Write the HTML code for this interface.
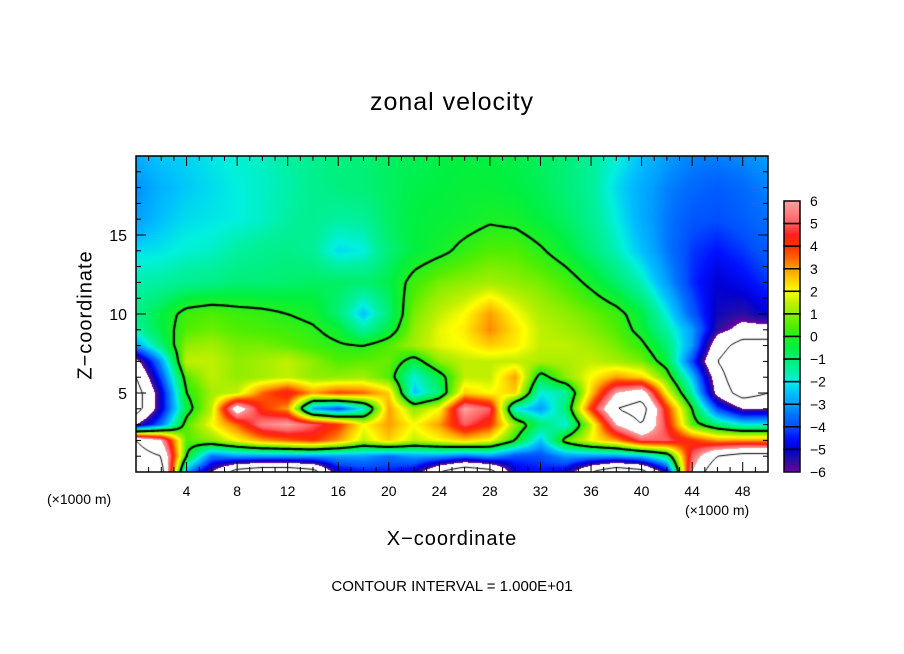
<!DOCTYPE html>
<html><head><meta charset="utf-8">
<style>
html,body{margin:0;padding:0;background:#fff;}
#wrap{position:relative;width:904px;height:654px;overflow:hidden;font-family:"Liberation Sans",sans-serif;color:#000;}
.t{position:absolute;white-space:nowrap;}
canvas{position:absolute;}
</style></head>
<body>
<div id="wrap">
<div class="t" style="left:0;width:904px;text-align:center;top:88px;font-size:25px;letter-spacing:1px;">zonal velocity</div>
<canvas id="plot" width="632" height="316" style="left:136px;top:156px;"></canvas>
<svg id="axes" width="904" height="654" style="position:absolute;left:0;top:0;"></svg>
<div class="t" style="left:86px;top:315px;font-size:20px;transform:translate(-50%,-50%) rotate(-90deg);letter-spacing:1px;">Z&#8722;coordinate</div>
<div class="t" style="left:0;width:904px;text-align:center;top:528px;font-size:20px;letter-spacing:1px;">X&#8722;coordinate</div>
<div class="t" style="left:47px;top:491px;font-size:14px;">(×1000 m)</div>
<div class="t" style="left:685px;top:502px;font-size:14px;">(×1000 m)</div>
<div class="t" style="left:0;width:904px;text-align:center;top:578px;font-size:15px;">CONTOUR INTERVAL = 1.000E+01</div>
</div>
<script>
// ---- data ----
const xKm = [0,2,4,6,8,10,12,14,16,18,20,22,24,26,28,30,32,34,36,38,40,42,44,46,48,50];
const zKm = [20,18,16,14,12,10,9,8,7,6,5,4,3,2,1,0];
const uZ20=[-2.8,-2.4,-2.3,-2.1,-1.9,-1.8,-1.5,-1.3,-1.1,-1,-0.8,-0.7,-0.6,-0.5,-0.5,-0.6,-0.8,-1,-1.4,-1.9,-2.5,-3,-3.3,-3.3,-3.2,-3];
const uZ18=[-3.2,-2.7,-2.4,-2.2,-2,-1.8,-1.6,-1.3,-1.1,-1,-0.8,-0.6,-0.5,-0.4,-0.4,-0.5,-0.7,-1,-1.4,-2.2,-2.8,-3.3,-3.6,-3.8,-3.6,-3.3];
const uZ16=[-3,-2.5,-2.2,-2.1,-2,-1.8,-1.5,-1.3,-1.5,-1.4,-0.8,-0.5,-0.4,-0.3,-0.1,-0.2,-0.5,-0.8,-1.3,-2,-2.8,-3.4,-3.9,-4,-3.8,-3.5];
const uZ14=[-2.2,-2.1,-1.9,-1.8,-1.5,-1.3,-1.2,-1.4,-2.2,-2,-1,-0.5,-0.2,0.2,0.5,0.5,0.1,-0.4,-1,-1.7,-2.5,-3.4,-4.2,-4.5,-4.2,-3.8];
const uZ12=[-1.6,-1.5,-1.3,-1.2,-1,-1,-0.9,-0.8,-0.8,-0.9,-0.6,0.3,0.8,1,1.2,1,0.8,0.4,-0.2,-0.9,-1.7,-3,-4.3,-5,-4.7,-4.2];
const uZ10=[-1.2,-0.5,0.3,0.5,0.3,0.2,0,-0.2,-1,-2.5,-1,0.8,1.5,2,3,2,1.3,1.0,0.7,0.3,-0.5,-2,-3.8,-5.2,-5.5,-5];
const uZ9=[-1.5,-0.5,0.5,0.7,0.5,0.4,0.3,0.1,-0.3,-1.5,-0.5,1.0,1.8,2.2,3.2,2.3,1.5,1.2,0.9,0.5,-0.3,-1.5,-3,-5.5,-6.5,-6.5];
const uZ8=[-3,-1,1,1.2,0.8,0.8,0.6,0.3,0.1,0,0.5,1.2,1.8,2,2.5,2.2,1.5,1.5,1.2,0.8,0.2,-1,-3,-7,-9,-9];
const uZ7=[-6.5,-3,1.5,1.5,1,1.2,1.5,1,0.5,0.6,0.7,-0.5,1,1.5,1.5,1.5,1.3,1.3,1.5,1.2,0.8,-0.5,-4,-8,-10,-10];
const uZ6=[-8,-4,0.5,1.5,1,1.2,1.5,1,1,1.2,0.5,-2,-0.5,1.5,1.5,3,-0.5,1,2,3,2.5,0.5,-2.5,-7,-10,-10];
const uZ5=[-9,-5,0,1.2,1.5,3.5,4.5,3,3.8,3.5,2.5,-2.5,-1,2.5,2,2.5,-2,-1.5,2.5,6,7,2,-1.5,-6.5,-9,-8];
const uZ4=[-9,-5,-0.5,1.5,7,4,3,-3,-4,-2,3,1,2,6,5,-2,-3,-1,4,8,9,4,0,-4,-6,-6];
const uZ3=[-6,-3.5,0.5,2,3.5,5.5,6,5,4,2,3,2,3,5,4,1,-1,-2,1.5,6,8,4.5,0.5,-1,-2,-2];
const uZ2=[8,6,0.5,1,2,3,3.5,4,3,1.5,2.5,1.5,2,2.5,2,0,-2.5,0.5,2,3,5,5,4,3,3,3];
const uZ1=[9,8,0,-3.5,-3,-3,-3,-3,-3,-3,-3.5,-3,-3,-3.5,-3,-4,-4,-3,-3,-3,-2.5,-1,5,8,9,9];
const uZ0=[10,9,-3,-6,-9,-10,-10,-9,-5,-4.5,-4.5,-5,-8,-10,-9,-5,-4.5,-5,-8,-10,-9,-5,6,10,10,10];
const fieldRows=[uZ20,uZ18,uZ16,uZ14,uZ12,uZ10,uZ9,uZ8,uZ7,uZ6,uZ5,uZ4,uZ3,uZ2,uZ1,uZ0];
const xTicks=[4,8,12,16,20,24,28,32,36,40,44,48];
const yTicks=[5,10,15];
const cbLevels=[6,5,4,3,2,1,0,-1,-2,-3,-4,-5,-6];

// ---- axis functions ----
const PL=136,PT=156,PW=632,PH=316;
const xs=v=>PL+v/50*PW;
const ys=v=>PT+PH-v/20*PH;

const stops=[[-6,112,0,160],[-5.5,40,16,160],[-5,0,0,210],[-4.5,0,16,255],[-4,0,80,255],[-3.5,0,112,255],[-3,0,160,255],[-2.5,0,192,255],[-2,0,240,224],[-1.5,0,240,160],[-1,0,240,120],[-0.5,0,240,64],[0,32,240,32],[0.5,80,238,0],[1,144,238,0],[1.5,192,240,0],[2,255,255,0],[2.5,255,208,0],[3,255,160,0],[3.5,255,96,0],[4,255,48,0],[4.5,255,32,32],[5,255,96,96],[6,255,160,160]];
function cmap(v){
  if(v>6||v<-6) return [255,255,255];
  for(let i=1;i<stops.length;i++){
    if(v<=stops[i][0]){const a=stops[i-1],b=stops[i],t=(v-a[0])/(b[0]-a[0]);
      return [a[1]+(b[1]-a[1])*t,a[2]+(b[2]-a[2])*t,a[3]+(b[3]-a[3])*t];}
  }
  return [255,160,160];
}
function field(xk,zk){
  let i=Math.min(xKm.length-2,Math.max(0,Math.floor(xk/2)));
  let tx=(xk-xKm[i])/(xKm[i+1]-xKm[i]);
  let j=0; while(j<zKm.length-2 && zk<zKm[j+1]) j++;
  let tz=(zKm[j]-zk)/(zKm[j]-zKm[j+1]);
  tx=Math.max(0,Math.min(1,tx)); tz=Math.max(0,Math.min(1,tz));
  const a=fieldRows[j][i],b=fieldRows[j][i+1],c=fieldRows[j+1][i],d=fieldRows[j+1][i+1];
  return (a*(1-tx)+b*tx)*(1-tz)+(c*(1-tx)+d*tx)*tz;
}
// ---- draw field ----
const cv=document.getElementById('plot'),ctx=cv.getContext('2d');
const img=ctx.createImageData(PW,PH);
for(let py=0;py<PH;py++){for(let px=0;px<PW;px++){
  const v=field((px+0.5)/PW*50,20-(py+0.5)/PH*20);const c=cmap(v);const k=(py*PW+px)*4;
  img.data[k]=c[0];img.data[k+1]=c[1];img.data[k+2]=c[2];img.data[k+3]=255;}}
ctx.putImageData(img,0,0);
// contours via marching squares
function contour(level,width,dash){
  const st=3,nx=Math.ceil(PW/st),ny=Math.ceil(PH/st),g=[];
  for(let j=0;j<=ny;j++){g.push([]);for(let i=0;i<=nx;i++)g[j].push(field(Math.min(PW,i*st)/PW*50,20-Math.min(PH,j*st)/PH*20)-level);}
  ctx.strokeStyle='#000';ctx.lineWidth=width;ctx.setLineDash(dash);ctx.beginPath();
  const ip=(a,b)=>a/(a-b);
  for(let j=0;j<ny;j++)for(let i=0;i<nx;i++){
    const a=g[j][i],b=g[j][i+1],c=g[j+1][i+1],d=g[j+1][i];const pts=[];
    if((a>0)!=(b>0))pts.push([(i+ip(a,b))*st,j*st]);
    if((b>0)!=(c>0))pts.push([(i+1)*st,(j+ip(b,c))*st]);
    if((d>0)!=(c>0))pts.push([(i+ip(d,c))*st,(j+1)*st]);
    if((a>0)!=(d>0))pts.push([i*st,(j+ip(a,d))*st]);
    for(let k=0;k+1<pts.length;k+=2){ctx.moveTo(pts[k][0],pts[k][1]);ctx.lineTo(pts[k+1][0],pts[k+1][1]);}
  }
  ctx.stroke();ctx.setLineDash([]);
}
contour(0,2.2,[]);contour(-8,1,[6,4]);contour(8,1,[]);

// ---- axes svg ----
const NS='http://www.w3.org/2000/svg',svg=document.getElementById('axes');
function mk(tag,at){const e=document.createElementNS(NS,tag);for(const k in at)e.setAttribute(k,at[k]);svg.appendChild(e);return e;}
const frame=mk('rect',{x:PL,y:PT,width:PW,height:PH,fill:'none',stroke:'#000','stroke-width':1.5});


for(let k=1;k<50;k++){
  const L=(k%4==0)?10:5;
  const t1=mk('line',{x1:xs(k),x2:xs(k),y1:PT+PH,y2:PT+PH-L,stroke:'#000','stroke-width':1});
  
  
  const t2=mk('line',{x1:xs(k),x2:xs(k),y1:PT,y2:PT+L,stroke:'#000','stroke-width':1});
  
  
}
for(let k=1;k<20;k++){
  const L=(k%5==0)?10:5;
  const t1=mk('line',{x1:PL,x2:PL+L,y1:ys(k),y2:ys(k),stroke:'#000','stroke-width':1});
  
  
  const t2=mk('line',{x1:PL+PW,x2:PL+PW-L,y1:ys(k),y2:ys(k),stroke:'#000','stroke-width':1});
  
  
}
xTicks.forEach(v=>{const t=mk('text',{x:xs(v),y:496,'text-anchor':'middle','font-size':14,'font-family':'Liberation Sans, sans-serif'});t.textContent=v;
  
  });
yTicks.forEach(v=>{const t=mk('text',{x:127,y:ys(v)+6,'text-anchor':'end','font-size':16,'font-family':'Liberation Sans, sans-serif'});t.textContent=v;
  
  });
// colorbar
const cbX=784,cbW=16,cbT=201,cbB=472,bh=(cbB-cbT)/(cbLevels.length-1);
const defs=mk('defs',{});
for(let i=0;i<cbLevels.length-1;i++){
  const hi=cbLevels[i],lo=cbLevels[i+1];
  const gr=document.createElementNS(NS,'linearGradient');gr.setAttribute('id','g'+i);gr.setAttribute('x1',0);gr.setAttribute('y1',0);gr.setAttribute('x2',0);gr.setAttribute('y2',1);
  for(let s=0;s<=4;s++){const c=cmap(hi-(hi-lo)*s/4*0.999);const st=document.createElementNS(NS,'stop');st.setAttribute('offset',s/4);st.setAttribute('stop-color','rgb('+c.map(Math.round).join(',')+')');gr.appendChild(st);}
  defs.appendChild(gr);
  const r=mk('rect',{x:cbX,y:cbT+i*bh,width:cbW,height:bh,fill:'url(#g'+i+')',stroke:'#000','stroke-width':1.5});
  
  
}
cbLevels.forEach((v,i)=>{const t=mk('text',{x:810,y:cbT+i*bh+5,'font-size':14,'font-family':'Liberation Sans, sans-serif'});t.textContent=(v<0?'\u2212'+(-v):v);
  
  });
</script>
</body></html>
